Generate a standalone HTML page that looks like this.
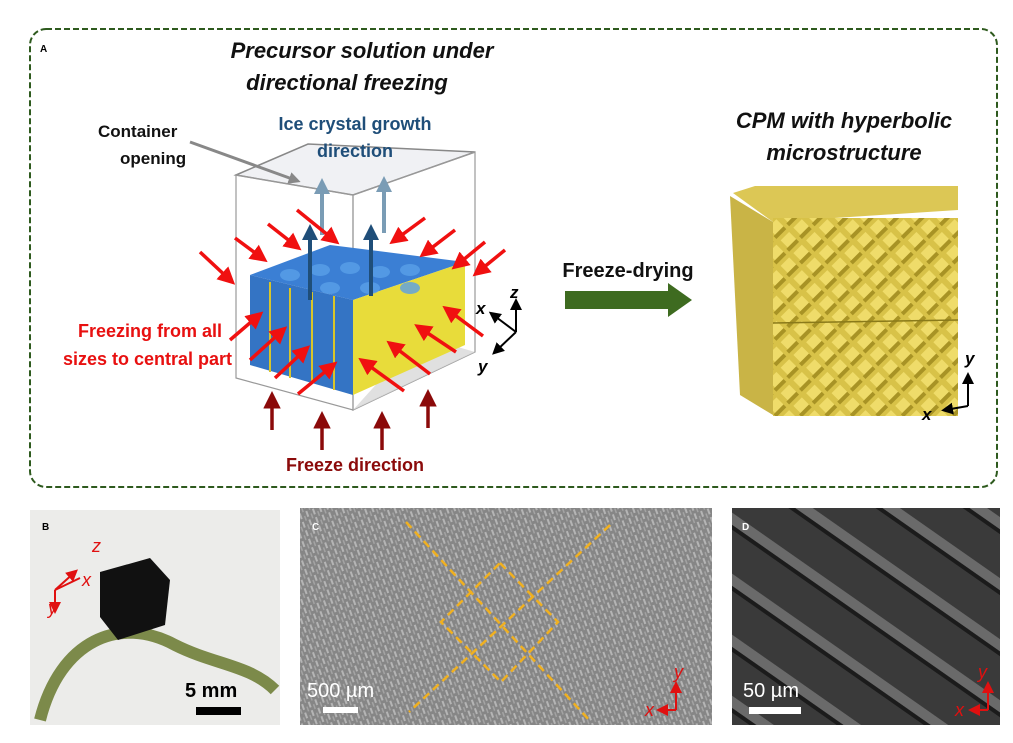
<!DOCTYPE html>
<html><head><meta charset="utf-8"><style>
body{margin:0;background:#fff;width:1013px;height:738px;overflow:hidden;font-family:"Liberation Sans",sans-serif}
</style></head><body>
<svg width="1013" height="738" viewBox="0 0 1013 738" xmlns="http://www.w3.org/2000/svg" font-family="Liberation Sans, sans-serif">
<defs>
<marker id="r" markerWidth="5" markerHeight="5" refX="3" refY="2.5" orient="auto" markerUnits="strokeWidth"><path d="M0,0 L5,2.5 L0,5z" fill="#f01010"/></marker>
<marker id="dr" markerWidth="5" markerHeight="5" refX="3" refY="2.5" orient="auto" markerUnits="strokeWidth"><path d="M0,0 L5,2.5 L0,5z" fill="#8b0a0a"/></marker>
<marker id="b" markerWidth="4" markerHeight="4" refX="2" refY="2" orient="auto" markerUnits="strokeWidth"><path d="M0,0 L4,2 L0,4z" fill="#1f4e79"/></marker>
<marker id="lb" markerWidth="4" markerHeight="4" refX="2" refY="2" orient="auto" markerUnits="strokeWidth"><path d="M0,0 L4,2 L0,4z" fill="#7a9cb5"/></marker>
<marker id="k" markerWidth="6" markerHeight="6" refX="4" refY="3" orient="auto" markerUnits="strokeWidth"><path d="M0,0 L6,3 L0,6z" fill="#000"/></marker>
<marker id="g" markerWidth="4" markerHeight="4" refX="2" refY="2" orient="auto" markerUnits="strokeWidth"><path d="M0,0 L4,2 L0,4z" fill="#888"/></marker>
<marker id="rr" markerWidth="6" markerHeight="6" refX="4" refY="3" orient="auto" markerUnits="strokeWidth"><path d="M0,0 L6,3 L0,6z" fill="#e01010"/></marker>
<pattern id="scales" width="18" height="18" patternUnits="userSpaceOnUse" patternTransform="rotate(45)"><rect width="18" height="18" fill="#d8c248"/><rect x="2" y="2" width="12" height="12" fill="#efdc6a"/><rect x="12" y="2" width="4" height="14" fill="#a89325"/></pattern>
<pattern id="sem" width="7" height="9" patternUnits="userSpaceOnUse" patternTransform="rotate(-20)"><rect width="7" height="9" fill="#8a8a8a"/><rect width="2" height="6" fill="#c8c8c8"/><rect x="4" y="4" width="1.5" height="5" fill="#b0b0b0"/></pattern>
<pattern id="semD" width="50" height="50" patternUnits="userSpaceOnUse" patternTransform="rotate(35)"><rect width="50" height="50" fill="#3a3a3a"/><rect y="0" width="50" height="10" fill="#6a6a6a"/><rect y="10" width="50" height="4" fill="#1b1b1b"/></pattern>
</defs>
<rect x="30" y="29" width="967" height="458" rx="16" fill="none" stroke="#2e5a1e" stroke-width="2" stroke-dasharray="6,3"/>
<text x="40" y="52" font-size="10" font-weight="bold">A</text>
<g font-style="italic" font-weight="bold" font-size="22" text-anchor="middle" fill="#111">
<text x="362" y="58">Precursor solution under</text>
<text x="347" y="90">directional freezing</text>
<text x="844" y="128">CPM with hyperbolic</text>
<text x="844" y="160">microstructure</text>
</g>
<g font-weight="bold" font-size="17" fill="#111">
<text x="98" y="137">Container</text><text x="120" y="164">opening</text></g>
<!-- container -->
<polygon points="236,175 308,144 475,152 353,195" fill="#e6e8ec" fill-opacity=".6" stroke="#888" stroke-width="1.5"/>
<polygon points="236,175 353,195 353,410 236,378" fill="none" stroke="#999" stroke-width="1.2"/>
<polygon points="353,195 475,152 475,352 353,410" fill="none" stroke="#999" stroke-width="1.2"/>
<polygon points="236,378 353,410 475,352 420,336 353,410" fill="#d8d8d8" opacity=".8"/>
<g font-weight="bold" font-size="18" fill="#1f4e79" text-anchor="middle">
<text x="355" y="130">Ice crystal growth</text><text x="355" y="157">direction</text></g>
<polygon points="250,275 330,245 465,262 353,300" fill="#3b7fd4"/>
<polygon points="250,275 353,300 353,395 250,365" fill="#3474c4"/>
<polygon points="353,300 465,262 465,345 353,395" fill="#e8dc3a"/>
<g fill="#5aa0e8" opacity=".8"><ellipse cx="290" cy="275" rx="10" ry="6"/><ellipse cx="320" cy="270" rx="10" ry="6"/><ellipse cx="350" cy="268" rx="10" ry="6"/><ellipse cx="380" cy="272" rx="10" ry="6"/><ellipse cx="410" cy="270" rx="10" ry="6"/><ellipse cx="330" cy="288" rx="10" ry="6"/><ellipse cx="370" cy="288" rx="10" ry="6"/><ellipse cx="410" cy="288" rx="10" ry="6"/></g>
<g stroke="#d8c52a" stroke-width="2"><line x1="270" y1="282" x2="270" y2="372"/><line x1="290" y1="288" x2="290" y2="378"/><line x1="312" y1="292" x2="312" y2="384"/><line x1="334" y1="296" x2="334" y2="390"/></g>
<line x1="310" y1="300" x2="310" y2="232" stroke="#1f4e79" stroke-width="4" marker-end="url(#b)"/>
<line x1="371" y1="296" x2="371" y2="232" stroke="#1f4e79" stroke-width="4" marker-end="url(#b)"/>
<line x1="322" y1="235" x2="322" y2="186" stroke="#7a9cb5" stroke-width="4" marker-end="url(#lb)"/>
<line x1="384" y1="233" x2="384" y2="184" stroke="#7a9cb5" stroke-width="4" marker-end="url(#lb)"/>
<line x1="190" y1="142" x2="295" y2="180" stroke="#888" stroke-width="3" marker-end="url(#g)"/>
<g stroke="#f01010" stroke-width="3.5" marker-end="url(#r)">
<line x1="200" y1="252" x2="230" y2="280"/><line x1="235" y1="238" x2="262" y2="258"/><line x1="268" y1="224" x2="296" y2="246"/><line x1="297" y1="210" x2="334" y2="240"/>
<line x1="425" y1="218" x2="395" y2="240"/><line x1="455" y1="230" x2="425" y2="253"/><line x1="485" y1="242" x2="457" y2="265"/><line x1="505" y1="250" x2="478" y2="272"/>
<line x1="230" y1="340" x2="258" y2="316"/><line x1="250" y1="360" x2="282" y2="331"/><line x1="275" y1="378" x2="305" y2="350"/><line x1="298" y1="394" x2="332" y2="366"/>
<line x1="483" y1="336" x2="448" y2="310"/><line x1="456" y1="352" x2="420" y2="328"/><line x1="430" y1="374" x2="392" y2="345"/><line x1="404" y1="391" x2="364" y2="362"/>
</g>
<g font-weight="bold" font-size="18" fill="#e81010" text-anchor="end">
<text x="222" y="337">Freezing from all</text><text x="232" y="365">sizes to central part</text></g>
<g stroke="#8b0a0a" stroke-width="3.5" marker-end="url(#dr)">
<line x1="272" y1="430" x2="272" y2="398"/><line x1="322" y1="450" x2="322" y2="418"/><line x1="382" y1="450" x2="382" y2="418"/><line x1="428" y1="428" x2="428" y2="396"/></g>
<text x="355" y="471" font-weight="bold" font-size="18" fill="#8b0a0a" text-anchor="middle">Freeze direction</text>
<g stroke="#000" stroke-width="2"><line x1="516" y1="332" x2="516" y2="302" marker-end="url(#k)"/><line x1="516" y1="332" x2="492" y2="314" marker-end="url(#k)"/><line x1="516" y1="332" x2="495" y2="352" marker-end="url(#k)"/></g>
<g font-style="italic" font-weight="bold" font-size="17"><text x="510" y="298">z</text><text x="476" y="314">x</text><text x="478" y="372">y</text></g>
<text x="628" y="277" font-weight="bold" font-size="20" text-anchor="middle" fill="#111">Freeze-drying</text>
<polygon points="565,291 668,291 668,283 692,300 668,317 668,309 565,309" fill="#3e6b20"/>
<!-- CPM cube -->
<polygon points="733,193 755,186 958,186 958,210 773,222" fill="#dcc755"/>
<polygon points="730,196 773,222 773,415 740,395" fill="#c9b446"/>
<rect x="773" y="218" width="185" height="198" fill="url(#scales)"/>
<line x1="773" y1="323" x2="958" y2="320" stroke="#8a7a1a" stroke-width="1.5"/>
<g stroke="#000" stroke-width="2"><line x1="968" y1="406" x2="968" y2="376" marker-end="url(#k)"/><line x1="968" y1="406" x2="945" y2="410" marker-end="url(#k)"/></g>
<g font-style="italic" font-weight="bold" font-size="17"><text x="965" y="364">y</text><text x="922" y="420">x</text></g>
<!-- B -->
<rect x="30" y="510" width="250" height="215" fill="#ececea"/>
<path d="M40,720 C60,640 120,615 175,645 C215,665 250,665 275,690" stroke="#7c8a4a" stroke-width="12" fill="none"/>
<polygon points="100,572 150,558 170,580 165,625 118,640 100,617" fill="#111"/>
<text x="42" y="530" font-size="10" font-weight="bold">B</text>
<g stroke="#e01010" stroke-width="2"><line x1="55" y1="590" x2="75" y2="572" marker-end="url(#rr)"/><line x1="55" y1="590" x2="80" y2="578"/><line x1="55" y1="590" x2="55" y2="610" marker-end="url(#rr)"/></g>
<g fill="#e01010" font-style="italic" font-size="18"><text x="92" y="552">z</text><text x="82" y="586">x</text><text x="48" y="614">y</text></g>
<text x="185" y="697" font-size="20" font-weight="bold">5 mm</text>
<rect x="196" y="707" width="45" height="8" fill="#000"/>
<!-- C -->
<rect x="300" y="508" width="412" height="217" fill="url(#sem)"/>
<rect x="300" y="508" width="412" height="217" fill="#7a7a7a" opacity=".25"/>
<text x="312" y="530" font-size="10" font-weight="bold" fill="#fff">C</text>
<g stroke="#f0b020" stroke-width="2.5" stroke-dasharray="8,5" fill="none">
<line x1="406" y1="522" x2="591" y2="722"/><line x1="610" y1="525" x2="409" y2="712"/>
<polygon points="500,563 558,622 501,682 441,622"/></g>
<text x="307" y="697" font-size="20" fill="#fff">500 µm</text>
<rect x="323" y="707" width="35" height="6" fill="#fff"/>
<g stroke="#e01010" stroke-width="2"><line x1="676" y1="710" x2="676" y2="685" marker-end="url(#rr)"/><line x1="676" y1="710" x2="660" y2="710" marker-end="url(#rr)"/></g>
<g fill="#e01010" font-style="italic" font-size="18"><text x="674" y="678">y</text><text x="645" y="716">x</text></g>
<!-- D -->
<rect x="732" y="508" width="268" height="217" fill="url(#semD)"/>
<text x="742" y="530" font-size="10" font-weight="bold" fill="#fff">D</text>
<text x="743" y="697" font-size="20" fill="#fff">50 µm</text>
<rect x="749" y="707" width="52" height="7" fill="#fff"/>
<g stroke="#e01010" stroke-width="2"><line x1="988" y1="710" x2="988" y2="685" marker-end="url(#rr)"/><line x1="988" y1="710" x2="972" y2="710" marker-end="url(#rr)"/></g>
<g fill="#e01010" font-style="italic" font-size="18"><text x="978" y="678">y</text><text x="955" y="716">x</text></g>
</svg>
</body></html>
